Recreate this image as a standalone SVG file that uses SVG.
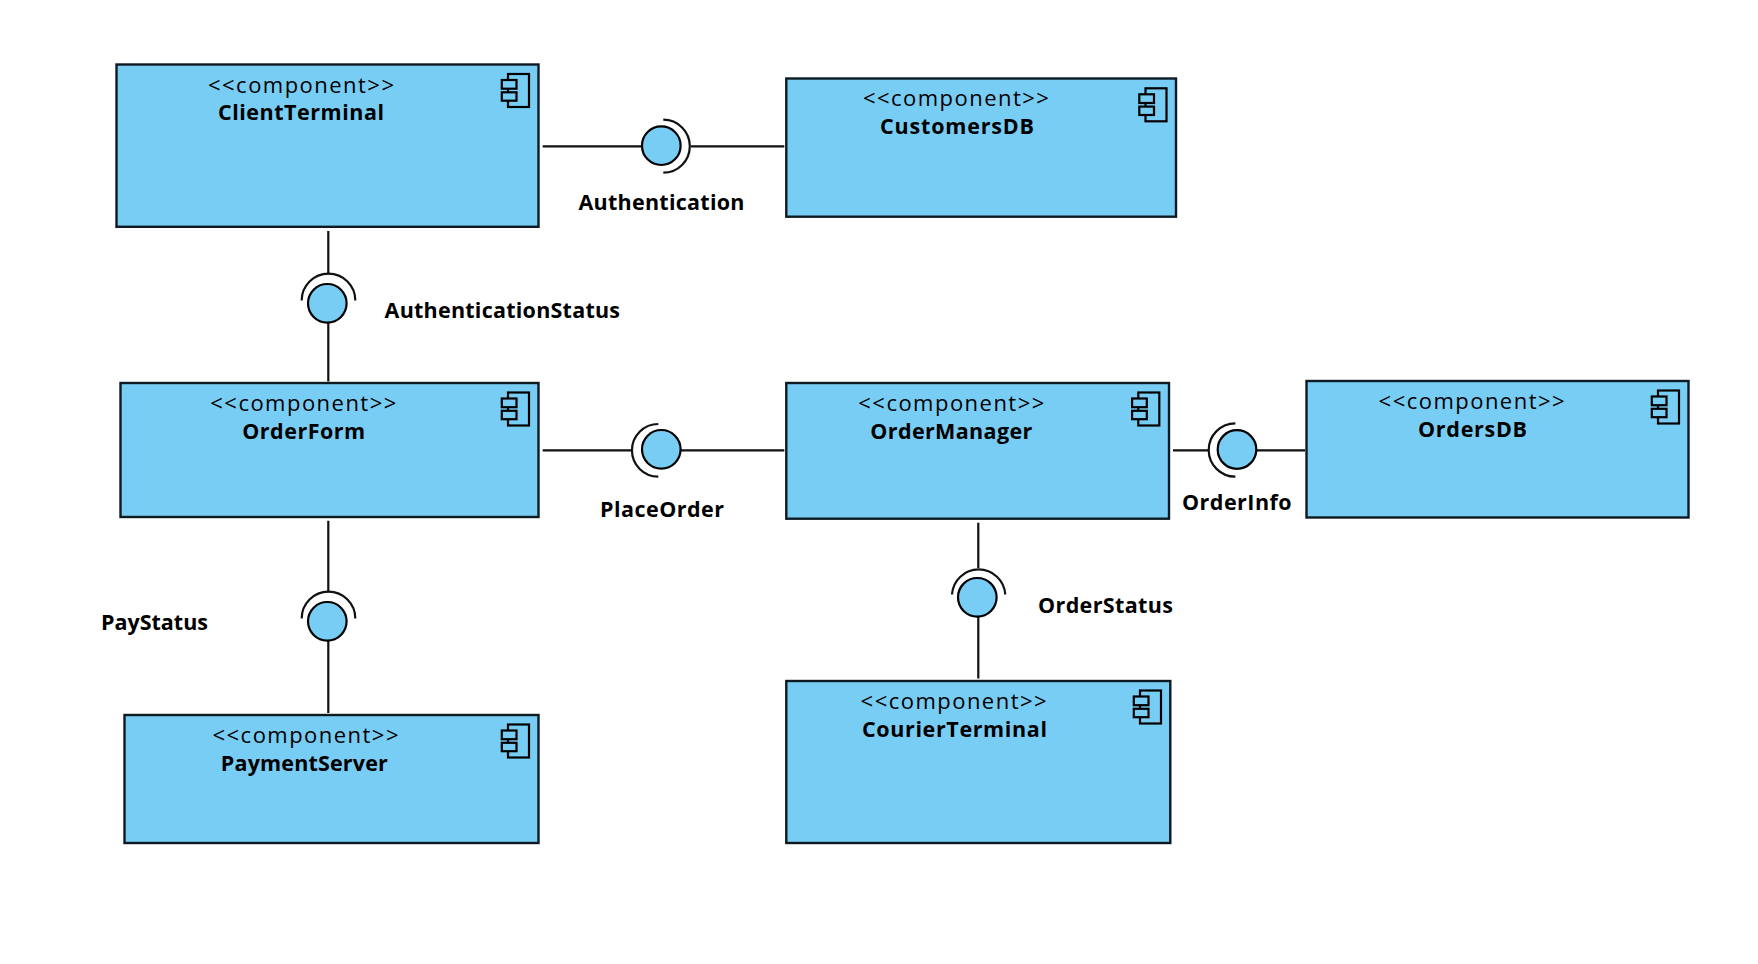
<svg xmlns="http://www.w3.org/2000/svg" width="1758" height="964" viewBox="0 0 1758 964">
<style>
text{font-family:"Open Sans","DejaVu Sans",sans-serif;fill:#000;text-anchor:middle}
.st{font-size:22px}
.nm{font-size:21.5px;font-weight:bold}
.lb{font-size:21.5px;font-weight:bold}
.box{fill:#78cdf5;stroke:#0d1a22;stroke-width:2.4}
.ic{fill:#78cdf5;stroke:#000;stroke-width:2.2}
.ln{fill:none;stroke:#111;stroke-width:2.2}
</style>
<defs>
<g id="icon">
<rect class="ic" x="-30.5" y="10" width="21" height="33"/>
<rect class="ic" x="-36.7" y="16" width="14.7" height="8.7"/>
<rect class="ic" x="-36.7" y="28.3" width="14.7" height="8.4"/>
</g>
</defs>
<rect width="1758" height="964" fill="#fff"/>
<g id="connectors">
<path class="ln" d="M542.7 146.300H642M691 146.300H784.300"/>
<path class="ln" d="M328.300 231V274.300M328.300 322V381.500"/>
<path class="ln" d="M542.700 450.300H632.300M680.500 450.300H784.300"/>
<path class="ln" d="M1173 450.300H1208.500M1256.500 450.300H1305"/>
<path class="ln" d="M328.300 520.700V592.300M328.300 640V713"/>
<path class="ln" d="M978.300 522.700V568M978.300 615V678.500"/>
</g>
<g id="ClientTerminal"><rect class="box" x="116.500" y="64.500" width="422" height="162.300"/><use href="#icon" x="538.500" y="64"/>
<text class="st" x="301" y="92.500" textLength="186" lengthAdjust="spacing">&lt;&lt;component&gt;&gt;</text>
<text class="nm" x="301" y="119.800" textLength="166" lengthAdjust="spacing">ClientTerminal</text></g>
<g id="CustomersDB"><rect class="box" x="786.300" y="78.500" width="389.700" height="138.200"/><use href="#icon" x="1176" y="78.300"/>
<text class="st" x="955.900" y="105.800" textLength="186" lengthAdjust="spacing">&lt;&lt;component&gt;&gt;</text>
<text class="nm" x="957" y="133.600" textLength="154" lengthAdjust="spacing">CustomersDB</text></g>
<g id="OrderForm"><rect class="box" x="120.500" y="383" width="418" height="134"/><use href="#icon" x="538.500" y="382.500"/>
<text class="st" x="303.300" y="411" textLength="186" lengthAdjust="spacing">&lt;&lt;component&gt;&gt;</text>
<text class="nm" x="303.700" y="438.600" textLength="123" lengthAdjust="spacing">OrderForm</text></g>
<g id="OrderManager"><rect class="box" x="786.300" y="383" width="382.700" height="135.700"/><use href="#icon" x="1168.800" y="382.500"/>
<text class="st" x="951.300" y="411" textLength="186" lengthAdjust="spacing">&lt;&lt;component&gt;&gt;</text>
<text class="nm" x="951.300" y="438.600" textLength="162" lengthAdjust="spacing">OrderManager</text></g>
<g id="OrdersDB"><rect class="box" x="1306.500" y="381" width="382" height="136.500"/><use href="#icon" x="1688.500" y="380.500"/>
<text class="st" x="1471.600" y="408.500" textLength="186" lengthAdjust="spacing">&lt;&lt;component&gt;&gt;</text>
<text class="nm" x="1472.500" y="436.600" textLength="109" lengthAdjust="spacing">OrdersDB</text></g>
<g id="PaymentServer"><rect class="box" x="124.500" y="715" width="414" height="128"/><use href="#icon" x="538.500" y="714.500"/>
<text class="st" x="305.500" y="742.500" textLength="186" lengthAdjust="spacing">&lt;&lt;component&gt;&gt;</text>
<text class="nm" x="304.300" y="770.600" textLength="167" lengthAdjust="spacing">PaymentServer</text></g>
<g id="CourierTerminal"><rect class="box" x="786.300" y="681" width="384" height="162"/><use href="#icon" x="1170.500" y="680.500"/>
<text class="st" x="953.600" y="708.800" textLength="186" lengthAdjust="spacing">&lt;&lt;component&gt;&gt;</text>
<text class="nm" x="954.500" y="736.600" textLength="185" lengthAdjust="spacing">CourierTerminal</text></g>
<g id="Authentication"><circle class="ic" cx="661.300" cy="145.700" r="19.300"/><path class="ln" d="M663.300 119.700A26.500 26.500 0 0 1 663.300 172.700"/>
<text class="lb" x="661.500" y="209.800" textLength="166" lengthAdjust="spacing">Authentication</text></g>
<g id="AuthenticationStatus"><circle class="ic" cx="327.300" cy="303.300" r="19.300"/><path class="ln" d="M301.700 300.500A26.800 26.800 0 0 1 355.300 300.500"/>
<text class="lb" x="502.300" y="318.300" textLength="235.500" lengthAdjust="spacing">AuthenticationStatus</text></g>
<g id="PlaceOrder"><circle class="ic" cx="661.300" cy="449.300" r="19.300"/><path class="ln" d="M658.300 424A26.350 26.350 0 0 0 658.300 476.700"/>
<text class="lb" x="662" y="516.600" textLength="124" lengthAdjust="spacing">PlaceOrder</text></g>
<g id="OrderInfo"><circle class="ic" cx="1237" cy="449.500" r="19.300"/><path class="ln" d="M1235.400 423.300A26.700 26.700 0 0 0 1235.400 476.700"/>
<text class="lb" x="1236.800" y="509.500" textLength="109.600" lengthAdjust="spacing">OrderInfo</text></g>
<g id="PayStatus"><circle class="ic" cx="327.300" cy="621.300" r="19.300"/><path class="ln" d="M301.700 618.500A26.800 26.800 0 0 1 355.300 618.500"/>
<text class="lb" x="154.500" y="630" textLength="107" lengthAdjust="spacing">PayStatus</text></g>
<g id="OrderStatus"><circle class="ic" cx="977.300" cy="597.300" r="19.300"/><path class="ln" d="M952 594.500A26.700 26.700 0 0 1 1005.300 594.500"/>
<text class="lb" x="1105.500" y="612.600" textLength="135" lengthAdjust="spacing">OrderStatus</text></g>
</svg>
